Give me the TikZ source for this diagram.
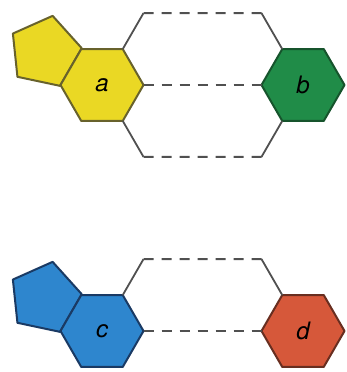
\documentclass[tikz,border=0pt]{standalone}
\usepackage{fontspec}
\setsansfont{TeX Gyre Heros}
\usetikzlibrary{positioning, shapes.geometric}
\definecolor{ringY}{RGB}{234,216,36}
\definecolor{edgeY}{RGB}{104,98,44}
\definecolor{ringG}{RGB}{32,140,72}
\definecolor{edgeG}{RGB}{22,84,44}
\definecolor{ringB}{RGB}{46,134,206}
\definecolor{edgeB}{RGB}{26,58,100}
\definecolor{ringR}{RGB}{214,88,58}
\definecolor{edgeR}{RGB}{104,46,32}
\definecolor{bondgray}{RGB}{80,80,80}

\begin{document}
\begin{tikzpicture}[x=1pt, y=1pt,
        % 六員環のスタイル
        hexa/.style={regular polygon, regular polygon sides=6, minimum size=83pt, inner sep=0pt, outer sep=0pt, draw, line width=2pt, line join=round, font=\fontsize{24}{24}\selectfont\sffamily\itshape},
        % 五員環のスタイル
        penta/.style={regular polygon, regular polygon sides=5, shape border rotate=60, minimum size=74pt, inner sep=0pt, outer sep=0pt, draw, line width=2pt, line join=round},
        % 結合のスタイル
        bond/.style={draw=bondgray, line width=1.8pt},
        hbond/.style={bond, line width=2.2pt, dash pattern=on 10pt off 8pt}
    ]
    \useasboundingbox (0,0) rectangle (346,372);

    % 環の中心
    \coordinate (ra) at (102,287);
    \coordinate (rc) at (102,41);

    % 五員環（六員環の後ろ）
    \node[penta, fill=ringY, draw=edgeY] (pa) at ([shift={(150:65.9pt)}]ra) {};
    \node[penta, fill=ringB, draw=edgeB] (pc) at ([shift={(150:65.9pt)}]rc) {};

    % 六員環
    \node[hexa, fill=ringY, draw=edgeY] (a) at (ra) {a};
    \node[hexa, fill=ringG, draw=edgeG, right=118pt of a] (b) {b};
    \node[hexa, fill=ringB, draw=edgeB] (c) at (rc) {c};
    \node[hexa, fill=ringR, draw=edgeR, right=118pt of c] (d) {d};

    % 点線の外側の角
    \coordinate (ab1) at ([shift={(60:41.5pt)}]a.60);
    \coordinate (ab2) at ([shift={(120:41.5pt)}]b.120);
    \coordinate (ab3) at ([shift={(300:41.5pt)}]a.300);
    \coordinate (ab4) at ([shift={(240:41.5pt)}]b.240);
    \coordinate (cd1) at ([shift={(60:41.5pt)}]c.60);
    \coordinate (cd2) at ([shift={(120:41.5pt)}]d.120);

    % 上の組
    \draw[bond] (a.60) -- (ab1);
    \draw[hbond] (ab1) -- (ab2);
    \draw[bond] (ab2) -- (b.120);
    \draw[hbond] (a.east) -- (b.west);
    \draw[bond] (a.300) -- (ab3);
    \draw[hbond] (ab3) -- (ab4);
    \draw[bond] (ab4) -- (b.240);

    % 下の組
    \draw[bond] (c.60) -- (cd1);
    \draw[hbond] (cd1) -- (cd2);
    \draw[bond] (cd2) -- (d.120);
    \draw[hbond] (c.east) -- (d.west);

\end{tikzpicture}
\end{document}
